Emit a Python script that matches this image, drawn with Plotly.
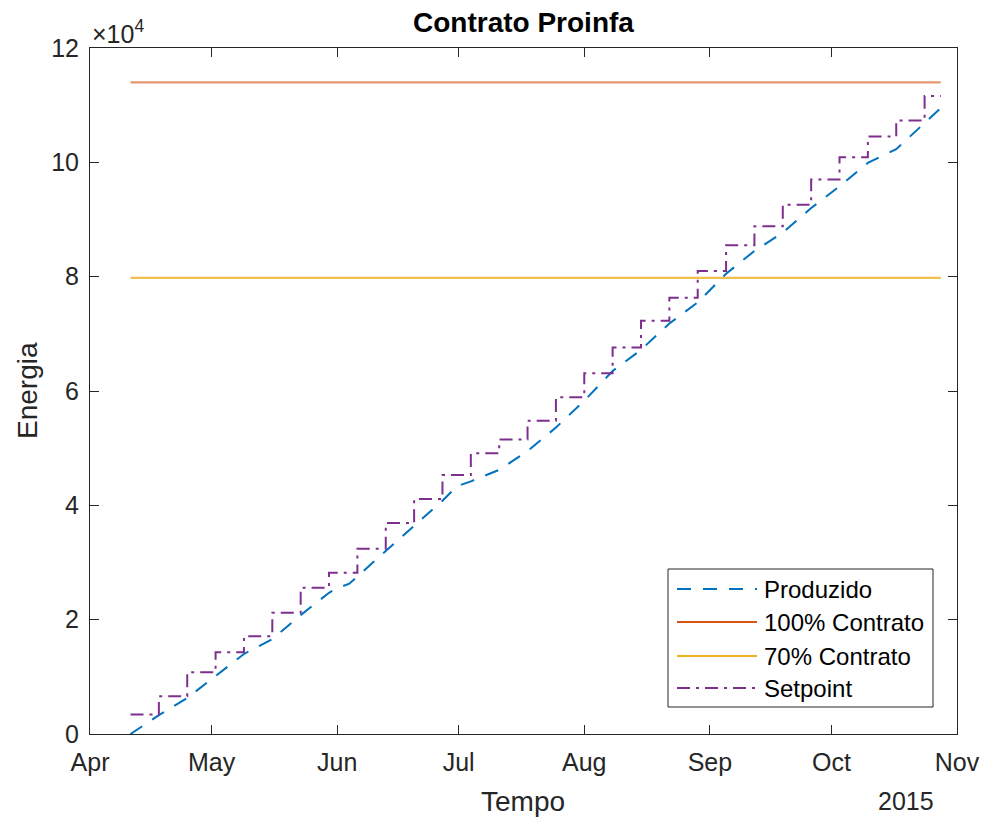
import plotly.graph_objects as go

# ---- data -------------------------------------------------------------
produzido_datas = [
    "2015-04-11", "2015-04-18", "2015-04-25", "2015-05-02", "2015-05-09",
    "2015-05-16", "2015-05-23", "2015-05-30", "2015-06-01", "2015-06-04",
    "2015-06-06", "2015-06-13", "2015-06-20", "2015-06-27", "2015-06-30 12:00",
    "2015-07-04", "2015-07-11", "2015-07-18", "2015-07-25", "2015-08-01",
    "2015-08-08", "2015-08-15", "2015-08-22", "2015-08-29", "2015-09-05",
    "2015-09-12", "2015-09-19", "2015-09-26", "2015-10-03", "2015-10-10",
    "2015-10-17", "2015-10-24", "2015-10-28",
]
produzido_valores = [
    0, 3300, 6300, 10200, 14000,
    16600, 20800, 24700, 25500, 26300,
    27600, 32000, 36400, 40800, 43300,
    44200, 46200, 49500, 53600, 58300,
    63500, 67200, 71800, 75500, 80500,
    84500, 87700, 92000, 95800, 99900,
    102300, 106800, 109500,
]

setpoint_datas = [
    "2015-04-11", "2015-04-18", "2015-04-25", "2015-05-02", "2015-05-09",
    "2015-05-16", "2015-05-23", "2015-05-30", "2015-06-06", "2015-06-13",
    "2015-06-20", "2015-06-27", "2015-07-04", "2015-07-11", "2015-07-18",
    "2015-07-25", "2015-08-01", "2015-08-08", "2015-08-15", "2015-08-22",
    "2015-08-29", "2015-09-05", "2015-09-12", "2015-09-19", "2015-09-26",
    "2015-10-03", "2015-10-10", "2015-10-17", "2015-10-24", "2015-10-28",
]
setpoint_valores = [
    3400, 6600, 10800, 14300, 17100,
    21200, 25600, 28200, 32400, 36900,
    41100, 45300, 49100, 51500, 54800,
    58900, 63100, 67600, 72300, 76300,
    81000, 85500, 88800, 92600, 97000,
    100900, 104500, 107300, 111600, 111600,
]

contrato_total = 114000
contrato_minimo = 0.7 * contrato_total
periodo = ["2015-04-11", "2015-10-28"]

mes_ticks = ["2015-04-01", "2015-05-01", "2015-06-01", "2015-07-01",
             "2015-08-01", "2015-09-01", "2015-10-01", "2015-11-01"]
mes_rotulos = ["Apr", "May", "Jun", "Jul", "Aug", "Sep", "Oct", "Nov"]
energia_ticks = [0, 20000, 40000, 60000, 80000, 100000, 120000]
energia_rotulos = ["0", "2", "4", "6", "8", "10", "12"]

# ---- styling ----------------------------------------------------------
AZUL = "#0072BD"
LARANJA = "#D95319"
AMARELO = "#EDB120"
ROXO = "#7E2F8E"
EIXO = "#262626"
FONTE = "Liberation Sans, Arial, sans-serif"

DASH_PROD = "14px,12px"
DASH_SET = "13px,6px,3px,6px"

TICK_SIZE = 25
LABEL_SIZE = 28
LEGEND_SIZE = 24

series = [
    ("Produzido", AZUL, DASH_PROD),
    ("100% Contrato", LARANJA, "solid"),
    ("70% Contrato", AMARELO, "solid"),
    ("Setpoint", ROXO, DASH_SET),
]

fig = go.Figure()
fig.add_trace(go.Scatter(x=produzido_datas, y=produzido_valores, mode="lines",
                         name="Produzido",
                         line=dict(color=AZUL, width=2, dash=DASH_PROD)))
fig.add_trace(go.Scatter(x=periodo, y=[contrato_total] * 2, mode="lines",
                         name="100% Contrato",
                         line=dict(color=LARANJA, width=2.2), opacity=0.6))
fig.add_trace(go.Scatter(x=periodo, y=[contrato_minimo] * 2, mode="lines",
                         name="70% Contrato",
                         line=dict(color=AMARELO, width=2.2), opacity=0.8))
fig.add_trace(go.Scatter(x=setpoint_datas, y=setpoint_valores, mode="lines",
                         name="Setpoint", line_shape="hv",
                         line=dict(color=ROXO, width=2, dash=DASH_SET)))

L, R, T, B = 90, 27, 48, 85
W, H = 984, 819
pw, ph = W - L - R, H - T - B


def px(xp):
    return (xp - L) / pw


def py(yp):
    return (H - B - yp) / ph


fig.update_layout(
    width=W, height=H,
    margin=dict(l=L, r=R, t=T, b=B, autoexpand=False),
    paper_bgcolor="white", plot_bgcolor="white",
    showlegend=False,
    font=dict(family=FONTE, color=EIXO, size=TICK_SIZE),
)

fig.update_xaxes(
    type="date", range=["2015-04-01", "2015-11-01"], automargin=False,
    tickmode="array", tickvals=mes_ticks, ticktext=mes_rotulos,
    ticks="inside", ticklen=9, tickwidth=1, tickcolor=EIXO,
    showline=True, linecolor=EIXO, linewidth=1, mirror="ticks",
    showgrid=False, zeroline=False,
    tickfont=dict(size=TICK_SIZE, color=EIXO, family=FONTE),
    ticklabelstandoff=6,
)
fig.update_yaxes(
    range=[0, 120000], automargin=False,
    tickmode="array", tickvals=energia_ticks, ticktext=energia_rotulos,
    ticks="inside", ticklen=9, tickwidth=1, tickcolor=EIXO,
    showline=True, linecolor=EIXO, linewidth=1, mirror="ticks",
    showgrid=False, zeroline=False,
    tickfont=dict(size=TICK_SIZE, color=EIXO, family=FONTE),
    ticklabelstandoff=5,
)

ann = []
ann.append(dict(text="<b>Contrato Proinfa</b>", x=px(523), y=py(22), xref="paper", yref="paper",
                showarrow=False, font=dict(size=28, color="black", family=FONTE),
                xanchor="center", yanchor="middle"))
ann.append(dict(text="Energia", x=px(27), y=py(391), xref="paper", yref="paper", textangle=-90,
                showarrow=False, font=dict(size=LABEL_SIZE, color=EIXO, family=FONTE),
                xanchor="center", yanchor="middle"))
ann.append(dict(text="Tempo", x=px(523), y=py(801), xref="paper", yref="paper",
                showarrow=False, font=dict(size=LABEL_SIZE, color=EIXO, family=FONTE),
                xanchor="center", yanchor="middle"))
ann.append(dict(text="2015", x=px(936), y=py(801), xref="paper", yref="paper",
                showarrow=False, font=dict(size=TICK_SIZE, color=EIXO, family=FONTE),
                xanchor="right", yanchor="middle"))
ann.append(dict(text="×10<sup>4</sup>", x=px(90), y=py(32), xref="paper", yref="paper",
                showarrow=False, font=dict(size=TICK_SIZE, color=EIXO, family=FONTE),
                xanchor="left", yanchor="middle"))

# legend box drawn in the lower right corner
shapes = [dict(type="rect", xref="paper", yref="paper",
               x0=px(668), x1=px(933), y0=py(707), y1=py(569),
               line=dict(color=EIXO, width=1), fillcolor="white", layer="above")]
rows = [589, 622, 656, 688]
for (nome, cor, dash), yr in zip(series, rows):
    shapes.append(dict(type="line", xref="paper", yref="paper",
                       x0=px(677), x1=px(757), y0=py(yr), y1=py(yr),
                       line=dict(color=cor, width=2, dash=dash), layer="above"))
    ann.append(dict(text=nome, x=px(762), y=py(yr), xref="paper", yref="paper",
                    showarrow=False, font=dict(size=LEGEND_SIZE, color="black", family=FONTE),
                    xanchor="left", yanchor="middle"))

fig.update_layout(annotations=ann, shapes=shapes)
fig.write_html("out.html")
